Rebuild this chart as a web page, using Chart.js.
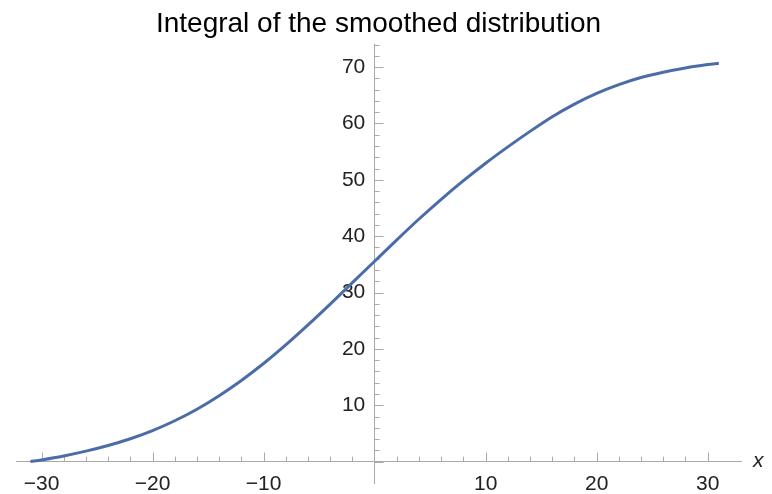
<!DOCTYPE html>
<html>
<head>
<meta charset="utf-8">
<title>Integral of the smoothed distribution</title>
<script src="https://cdn.jsdelivr.net/npm/chart.js@4"></script>
<style>
  html, body { margin: 0; padding: 0; background: #fff; }
  #wrap { width: 772px; height: 494px; }
</style>
</head>
<body>
<div id="wrap"><canvas id="chart"></canvas></div>
<script>
// cumulative curve, sampled along x
const xs = [-31, -30, -28, -26, -24, -22, -20, -18, -16, -14, -12, -10, -8, -6, -4, -2,
  0, 2, 4, 6, 8, 10, 12, 14, 16, 18, 20, 22, 24, 26, 28, 30, 31]
const ys = [0, 0.3, 1.0, 1.85, 2.85, 4.05, 5.5, 7.25, 9.3, 11.7, 14.4, 17.4, 20.7, 24.25, 27.95, 31.75,
  35.55, 39.35, 43.05, 46.55, 49.85, 52.95, 55.85, 58.6, 61.2, 63.45, 65.35, 66.9, 68.15, 69.1, 69.85, 70.45, 70.7]

const xLabels = [-30, -20, -10, 10, 20, 30]
const yLabels = [10, 20, 30, 40, 50, 60, 70]

const titleText = 'Integral of the smoothed distribution'
const axisColor = '#a9a9a9'
const font = 'Liberation Sans'

const fmt = (v) => (v < 0 ? '\u2212' + Math.abs(v) : String(v))

// Mathematica-style inward tick marks (long at labelled values) plus the "x" axis name
const axisTicks = {
  id: 'axisTicks',
  beforeDatasetsDraw(chart) {
    const { ctx, scales: { x, y } } = chart
    const x0 = x.getPixelForValue(0)
    const y0 = y.getPixelForValue(0)
    ctx.save()
    ctx.strokeStyle = axisColor
    ctx.lineWidth = 1
    x.ticks.forEach(t => {
      if (t.value === 0 || t.value % 2) return
      const px = Math.round(x.getPixelForValue(t.value)) + 0.5
      const len = xLabels.includes(t.value) ? 9 : 5
      ctx.beginPath()
      ctx.moveTo(px, y0)
      ctx.lineTo(px, y0 - len)
      ctx.stroke()
    })
    y.ticks.forEach(t => {
      if (t.value % 2) return
      const py = Math.round(y.getPixelForValue(t.value)) + 0.5
      const len = t.value % 10 === 0 ? 9 : 5
      ctx.beginPath()
      ctx.moveTo(x0, py)
      ctx.lineTo(x0 + len, py)
      ctx.stroke()
    })
    ctx.restore()
  },
  afterDraw(chart) {
    const { ctx, scales: { x, y } } = chart
    ctx.save()
    ctx.fillStyle = '#222'
    ctx.font = 'italic 21px "' + font + '"'
    ctx.textAlign = 'left'
    ctx.textBaseline = 'middle'
    ctx.fillText('x', x.right + 12, y.getPixelForValue(0))
    ctx.restore()
  }
}

const ctx = document.getElementById('chart').getContext('2d')
new Chart(ctx, {
  type: 'line',
  data: {
    datasets: [{
      data: xs.map((x, i) => ({ x: x, y: ys[i] })),
      borderColor: '#4c6ca8',
      borderWidth: 3,
      pointRadius: 0,
      fill: false,
      cubicInterpolationMode: 'monotone',
    }]
  },
  options: {
    responsive: true,
    maintainAspectRatio: false,
    animation: false,
    layout: {
      padding: { left: 16, right: 31, top: 0, bottom: 11 }
    },
    plugins: {
      legend: { display: false },
      tooltip: { enabled: false },
      title: {
        display: true,
        text: titleText,
        color: '#000',
        font: { family: font, size: 28, weight: 'normal' },
        padding: { top: 7, bottom: 4 },
      },
    },
    scales: {
      x: {
        type: 'linear',
        min: -32.3,
        max: 33,
        position: { y: 0 },
        grid: { display: false, drawTicks: false },
        border: { display: true, color: axisColor, width: 1 },
        ticks: {
          stepSize: 2,
          autoSkip: false,
          maxRotation: 0,
          padding: 10,
          color: '#222',
          font: { family: font, size: 21 },
          callback: (v) => (xLabels.includes(v) ? fmt(v) : ''),
        },
      },
      y: {
        type: 'linear',
        min: -3.8,
        max: 74,
        position: { x: 0 },
        grid: { display: false, drawTicks: false },
        border: { display: true, color: axisColor, width: 1 },
        ticks: {
          stepSize: 2,
          autoSkip: false,
          padding: 0,
          color: '#222',
          font: { family: font, size: 21, lineHeight: 1 },
          // labels sit right-aligned on the axis line, the trailing gap keeps them clear of it
          callback: (v) => (yLabels.includes(v) ? fmt(v) + ' \u2006' : ''),
        },
      },
    },
  },
  plugins: [axisTicks],
})
</script>
</body>
</html>
